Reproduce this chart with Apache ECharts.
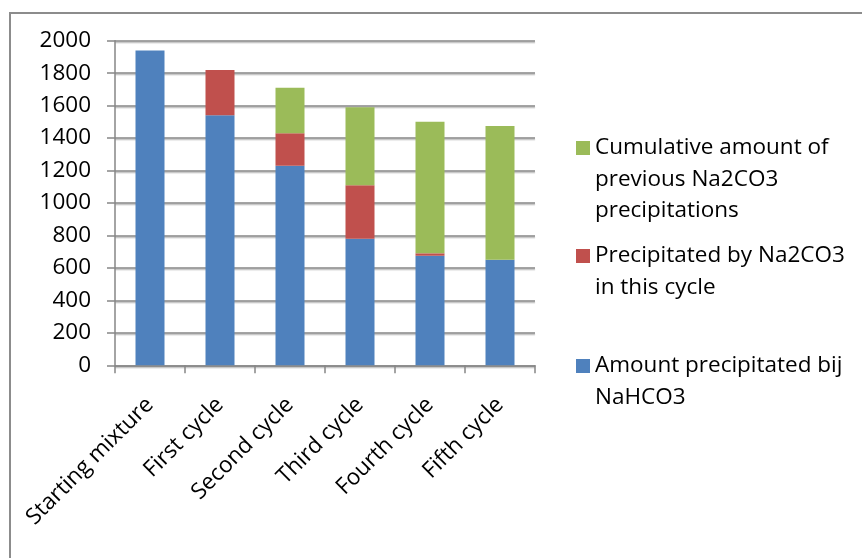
<!DOCTYPE html>
<html>
<head>
<meta charset="utf-8">
<script src="https://cdn.jsdelivr.net/npm/echarts@6/dist/echarts.min.js"></script>
<style>
html,body{margin:0;padding:0;background:#fff;}
#chart{width:862px;height:558px;}
</style>
</head>
<body>
<div id="chart"></div>
<script>
var categories = ['Starting mixture', 'First cycle', 'Second cycle', 'Third cycle', 'Fourth cycle', 'Fifth cycle'];
var nahco3Values = [1940, 1540, 1230, 780, 675, 650];
var thisCycleValues = [0, 280, 200, 330, 15, 0];
var cumulativeValues = [0, 0, 280, 480, 810, 825];
var yTicks = {min: 0, max: 2000, interval: 200};

var nameBlue = 'Amount precipitated bij NaHCO3';
var nameRed = 'Precipitated by Na2CO3 in this cycle';
var nameGreen = 'Cumulative amount of previous Na2CO3 precipitations';
var wrapped = {};
wrapped[nameBlue] = ['Amount precipitated bij', 'NaHCO3'];
wrapped[nameRed] = ['Precipitated by Na2CO3', 'in this cycle'];
wrapped[nameGreen] = ['Cumulative amount of', 'previous Na2CO3', 'precipitations'];

var FONT = 'Open Sans';
var FS = 22.5;
var LH = 31.5;
var gray = '#868686';

// icon is aligned with the first text line: pad the block with empty lines above
function legendFor(name, iconCenterY) {
  var lines = wrapped[name];
  var pad = [];
  for (var i = 1; i < lines.length; i++) pad.push('');
  var total = lines.length * 2 - 1;
  return {
    data: [name],
    left: 576,
    top: iconCenterY - total * LH / 2,
    padding: 0,
    icon: 'rect',
    itemWidth: 14,
    itemHeight: 14,
    itemGap: 0,
    selectedMode: false,
    formatter: function (n) { return pad.concat(wrapped[n]).join('\n'); },
    textStyle: {
      fontFamily: FONT,
      fontSize: FS,
      color: '#000',
      lineHeight: LH
    }
  };
}

var chart = echarts.init(document.getElementById('chart'), null, {renderer: 'canvas'});
chart.setOption({
  animation: false,
  backgroundColor: '#fff',
  graphic: [{
    type: 'rect',
    shape: {x: 10, y: 13, width: 1000, height: 1000},
    style: {fill: 'none', stroke: '#8c8c8c', lineWidth: 2},
    silent: true
  }],
  grid: {left: 115, right: 327, top: 40.7, bottom: 192.7, containLabel: false},
  legend: [
    legendFor(nameGreen, 148),
    legendFor(nameRed, 256),
    legendFor(nameBlue, 366)
  ],
  xAxis: {
    type: 'category',
    data: categories,
    boundaryGap: true,
    axisLine: {show: true, lineStyle: {color: gray, width: 1.5}},
    axisTick: {show: true, interval: 0, alignWithLabel: false, length: 8, lineStyle: {color: gray, width: 1.5}},
    axisLabel: {
      interval: 0,
      rotate: 45,
      margin: 36,
      fontFamily: FONT,
      fontSize: FS,
      color: '#000'
    },
    splitLine: {show: false}
  },
  yAxis: {
    type: 'value',
    min: yTicks.min,
    max: yTicks.max,
    interval: yTicks.interval,
    axisLine: {show: true, lineStyle: {color: gray, width: 1.5}},
    axisTick: {show: true, inside: false, length: 8, lineStyle: {color: gray, width: 1.5}},
    axisLabel: {margin: 24, fontFamily: FONT, fontSize: FS, color: '#000', formatter: function (v) { return String(v); }},
    splitLine: {show: true, lineStyle: {color: gray, width: 1.5, shadowColor: 'rgba(0,0,0,0.25)', shadowOffsetY: 1.5, shadowBlur: 1}}
  },
  series: [
    {name: nameBlue, type: 'bar', stack: 'total', data: nahco3Values, barWidth: 29, itemStyle: {color: '#4F81BD'}},
    {name: nameRed, type: 'bar', stack: 'total', data: thisCycleValues, barWidth: 29, itemStyle: {color: '#C0504D'}},
    {name: nameGreen, type: 'bar', stack: 'total', data: cumulativeValues, barWidth: 29, itemStyle: {color: '#9BBB59'}}
  ]
});
</script>
</body>
</html>
